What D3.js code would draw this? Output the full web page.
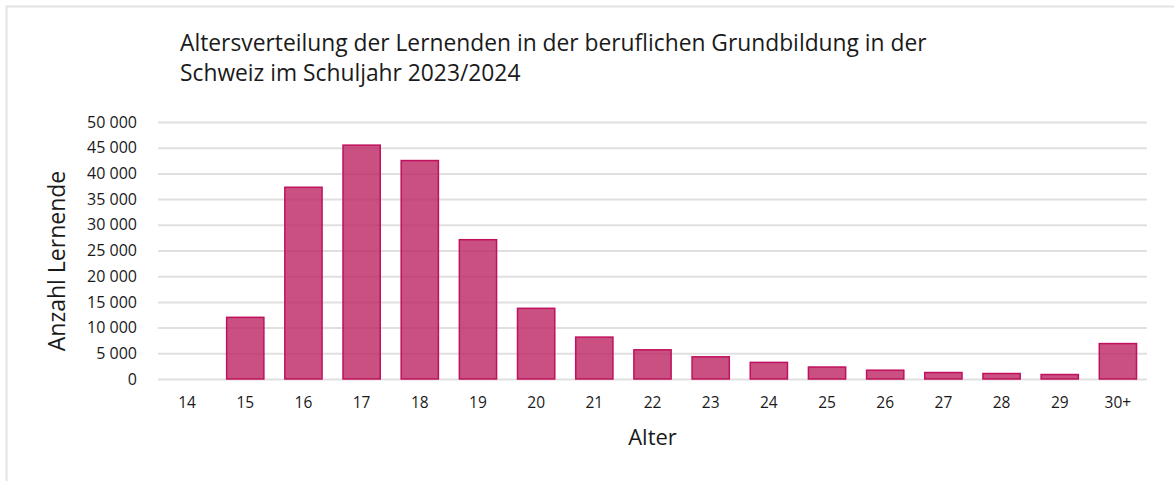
<!DOCTYPE html>
<html>
<head>
<meta charset="utf-8">
<script src="https://cdn.jsdelivr.net/npm/d3@7"></script>
<style>
  html, body { margin: 0; padding: 0; background: #fff; }
  svg { display: block; }
  text { font-family: "Open Sans", "Liberation Sans", Arial, sans-serif; fill: #1a1a1a; }
</style>
</head>
<body>
<div id="chart"></div>
<script>
// Altersgruppen und Anzahl Lernende
const ages = ["14", "15", "16", "17", "18", "19", "20", "21", "22", "23", "24", "25", "26", "27", "28", "29", "30+"];
const learners = [0, 12000, 37300, 45500, 42500, 27100, 13750, 8150, 5680, 4320, 3230, 2330, 1710, 1260, 1070, 870, 6890];
const yTicks = [0, 5000, 10000, 15000, 20000, 25000, 30000, 35000, 40000, 45000, 50000];
const titleLines = [
  "Altersverteilung der Lernenden in der beruflichen Grundbildung in der",
  "Schweiz im Schuljahr 2023/2024"
];
const xTitle = "Alter";
const yTitle = "Anzahl Lernende";

const W = 1174, H = 481;
const margin = { top: 122, right: 27, bottom: 102, left: 158 };
const FONT = "Open Sans, Liberation Sans, Arial, sans-serif";

const svg = d3.select("#chart").append("svg")
  .attr("width", W).attr("height", H);

// Rahmen
svg.append("rect")
  .attr("x", 6.5).attr("y", 6.5)
  .attr("width", W + 10).attr("height", H + 10)
  .attr("fill", "none").attr("stroke", "#e3e3e3").attr("stroke-width", 2);

const x = d3.scaleBand()
  .domain(ages)
  .range([margin.left, W - margin.right])
  .paddingInner(0.36).paddingOuter(0.18);

const y = d3.scaleLinear()
  .domain([0, 50000])
  .range([H - margin.bottom, margin.top]);

const locale = d3.formatLocale({ decimal: ",", thousands: " ", grouping: [3], currency: ["", " CHF"] });
const fmt = locale.format(",d");

// Gitternetz
const yAxis = svg.append("g")
  .attr("transform", `translate(${margin.left},0)`)
  .call(d3.axisLeft(y).tickValues(yTicks).tickFormat(fmt)
    .tickSize(-(W - margin.left - margin.right)).tickPadding(21));
yAxis.select(".domain").remove();
yAxis.selectAll(".tick line").attr("stroke", "#e0e0e0").attr("stroke-width", 2);
yAxis.selectAll(".tick text")
  .attr("font-size", 16).attr("fill", "#1a1a1a")
  .style("font-family", FONT);

// Balken
svg.append("g").selectAll("rect")
  .data(learners.map((v, i) => ({ age: ages[i], v })).filter(d => d.v > 0))
  .join("rect")
  .attr("x", d => x(d.age))
  .attr("y", d => y(d.v))
  .attr("width", x.bandwidth())
  .attr("height", d => y(0) - y(d.v))
  .attr("fill", "rgb(188,36,98)")
  .attr("fill-opacity", 0.8)
  .attr("stroke", "#c0105e")
  .attr("stroke-width", 1.5);

// x-Achse
const xAxis = svg.append("g")
  .attr("transform", `translate(0,${H - margin.bottom})`)
  .call(d3.axisBottom(x).tickSize(0).tickPadding(18));
xAxis.select(".domain").remove();
xAxis.selectAll(".tick text")
  .attr("font-size", 15.5).attr("fill", "#1a1a1a")
  .style("font-family", FONT);

// Titel
svg.append("g").selectAll("text")
  .data(titleLines)
  .join("text")
  .attr("x", 180)
  .attr("y", (d, i) => 51 + i * 30)
  .attr("font-size", 22.8)
  .text(d => d);

// Achsentitel
svg.append("text")
  .attr("x", (margin.left + W - margin.right) / 2)
  .attr("y", 445)
  .attr("text-anchor", "middle")
  .attr("font-size", 22)
  .text(xTitle);

svg.append("text")
  .attr("transform", "translate(65,261) rotate(-90)")
  .attr("text-anchor", "middle")
  .attr("font-size", 23)
  .text(yTitle);
</script>
</body>
</html>
